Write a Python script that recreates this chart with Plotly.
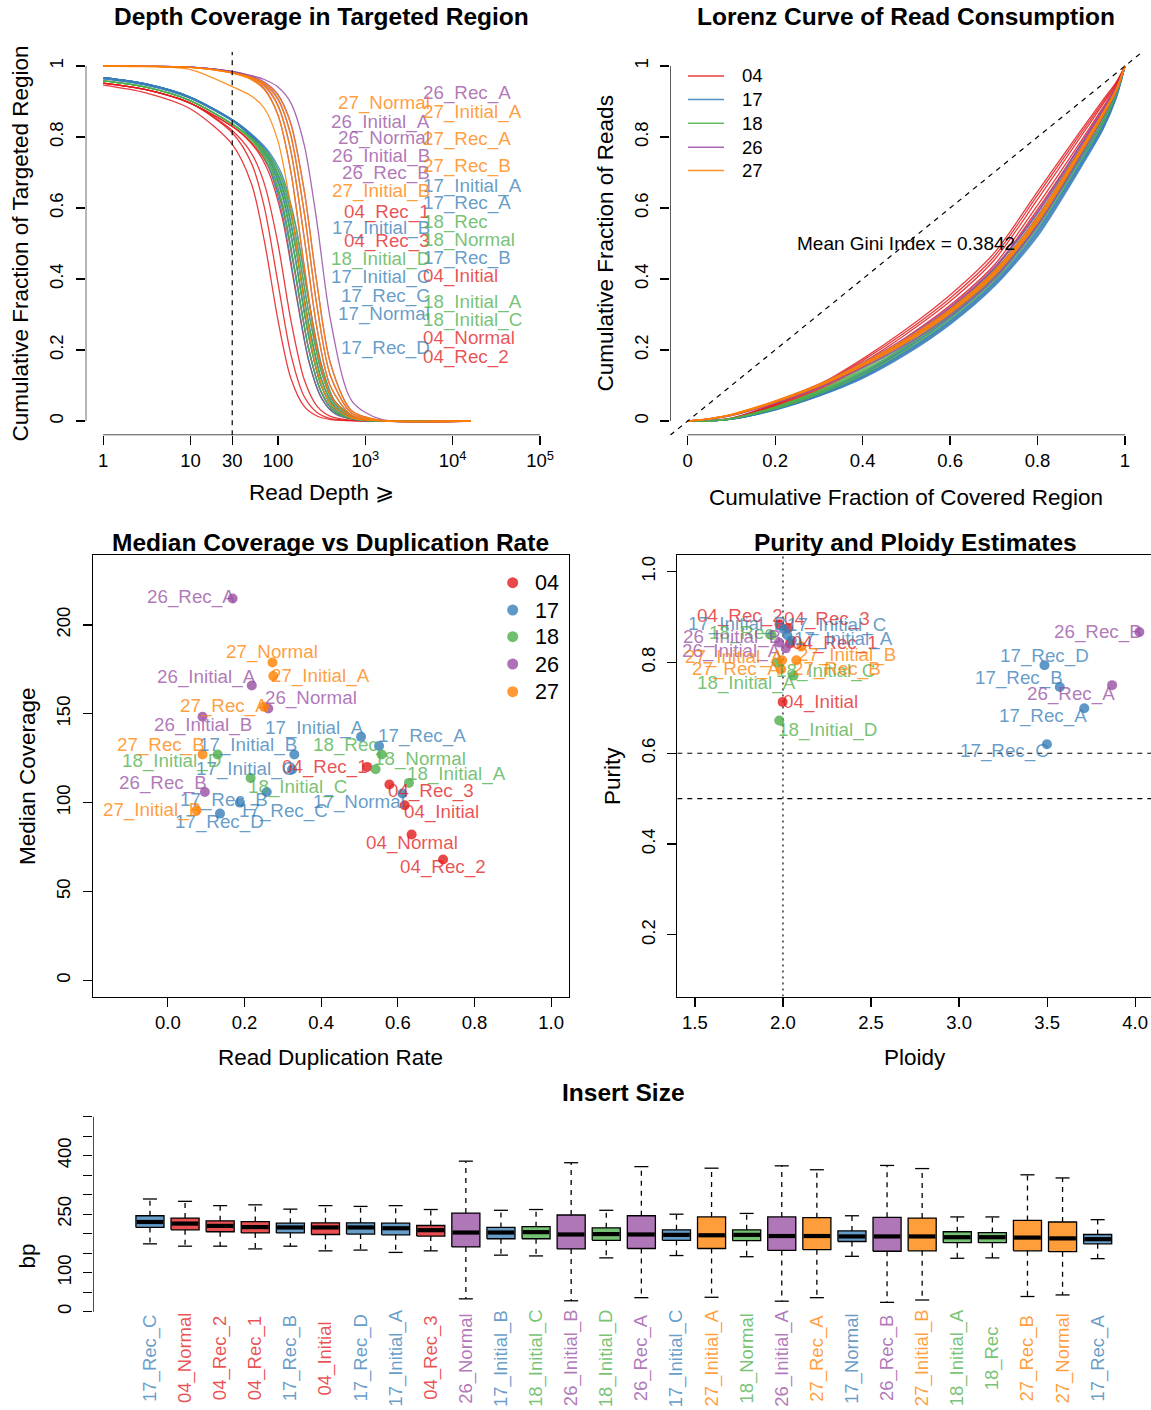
import plotly.graph_objects as go

W, H = 1151, 1410
FONT = "Liberation Sans, Arial, Helvetica, sans-serif"

# ---------------- data ----------------
samples = ["04_Normal", "04_Initial", "04_Rec_1", "04_Rec_2", "04_Rec_3",
           "17_Normal", "17_Initial_A", "17_Initial_B", "17_Initial_C", "17_Rec_A", "17_Rec_B", "17_Rec_C", "17_Rec_D",
           "18_Normal", "18_Initial_A", "18_Initial_C", "18_Initial_D", "18_Rec",
           "26_Normal", "26_Initial_A", "26_Initial_B", "26_Rec_A", "26_Rec_B",
           "27_Normal", "27_Initial_A", "27_Initial_B", "27_Rec_A", "27_Rec_B"]
groups = ["04", "17", "18", "26", "27"]

# cumulative fraction of targeted region with depth >= x (two read-off depth grids)
depth_grid_a = [1, 3, 10, 30, 50, 70, 100, 140, 200, 280, 400, 700, 1500, 16000]
depth_grid_b = [1, 3, 10, 34, 56, 78, 112, 157, 224, 314, 448, 784, 1680, 16000]
depth_curve_grid = ["a", "a", "b", "a", "b",
                    "b", "b", "b", "b", "b", "b", "b", "b",
                    "b", "b", "b", "b", "b",
                    "a", "a", "a", "a", "a",
                    "a", "a", "a", "a", "a"]
depth_frac = [
    [0.952, 0.934, 0.895, 0.812, 0.725, 0.602, 0.390, 0.190, 0.069, 0.024, 0.007, 0.001, 0.0, 0.0],
    [0.952, 0.934, 0.895, 0.818, 0.753, 0.668, 0.500, 0.287, 0.117, 0.042, 0.013, 0.002, 0.0, 0.0],
    [0.952, 0.934, 0.895, 0.821, 0.771, 0.716, 0.602, 0.416, 0.203, 0.080, 0.026, 0.004, 0.0, 0.0],
    [0.946, 0.925, 0.879, 0.779, 0.667, 0.507, 0.285, 0.122, 0.041, 0.014, 0.004, 0.001, 0.0, 0.0],
    [0.952, 0.934, 0.895, 0.820, 0.766, 0.702, 0.572, 0.373, 0.171, 0.065, 0.021, 0.003, 0.0, 0.0],
    [0.967, 0.950, 0.912, 0.837, 0.782, 0.717, 0.584, 0.381, 0.174, 0.066, 0.021, 0.003, 0.0, 0.0],
    [0.967, 0.950, 0.912, 0.840, 0.797, 0.760, 0.692, 0.561, 0.345, 0.161, 0.056, 0.009, 0.001, 0.0],
    [0.967, 0.950, 0.912, 0.840, 0.793, 0.749, 0.661, 0.501, 0.277, 0.118, 0.040, 0.006, 0.0, 0.0],
    [0.967, 0.950, 0.912, 0.839, 0.791, 0.741, 0.640, 0.465, 0.242, 0.099, 0.033, 0.005, 0.0, 0.0],
    [0.967, 0.950, 0.912, 0.840, 0.796, 0.755, 0.678, 0.533, 0.311, 0.139, 0.048, 0.008, 0.001, 0.0],
    [0.964, 0.947, 0.909, 0.836, 0.788, 0.738, 0.638, 0.463, 0.241, 0.099, 0.033, 0.005, 0.0, 0.0],
    [0.967, 0.950, 0.912, 0.838, 0.787, 0.730, 0.615, 0.425, 0.207, 0.082, 0.027, 0.004, 0.0, 0.0],
    [0.964, 0.947, 0.909, 0.837, 0.790, 0.746, 0.658, 0.499, 0.276, 0.118, 0.040, 0.006, 0.0, 0.0],
    [0.958, 0.941, 0.902, 0.827, 0.780, 0.731, 0.632, 0.459, 0.239, 0.098, 0.032, 0.005, 0.0, 0.0],
    [0.958, 0.941, 0.902, 0.826, 0.776, 0.721, 0.607, 0.419, 0.205, 0.081, 0.026, 0.004, 0.0, 0.0],
    [0.958, 0.941, 0.902, 0.828, 0.783, 0.739, 0.652, 0.495, 0.273, 0.117, 0.039, 0.006, 0.0, 0.0],
    [0.958, 0.941, 0.902, 0.828, 0.785, 0.745, 0.669, 0.526, 0.307, 0.137, 0.047, 0.008, 0.001, 0.0],
    [0.958, 0.941, 0.902, 0.828, 0.786, 0.750, 0.683, 0.554, 0.341, 0.158, 0.056, 0.009, 0.001, 0.0],
    [1.0, 0.999, 0.997, 0.984, 0.969, 0.951, 0.908, 0.807, 0.588, 0.324, 0.127, 0.022, 0.002, 0.0],
    [1.0, 0.999, 0.997, 0.984, 0.971, 0.955, 0.920, 0.840, 0.650, 0.387, 0.162, 0.029, 0.002, 0.0],
    [1.0, 0.999, 0.997, 0.984, 0.967, 0.945, 0.890, 0.764, 0.517, 0.262, 0.097, 0.016, 0.001, 0.0],
    [1.0, 0.999, 0.997, 0.985, 0.973, 0.962, 0.941, 0.897, 0.778, 0.559, 0.284, 0.057, 0.005, 0.0],
    [1.0, 0.999, 0.997, 0.983, 0.964, 0.936, 0.863, 0.706, 0.436, 0.203, 0.071, 0.011, 0.001, 0.0],
    [1.0, 0.999, 0.996, 0.981, 0.968, 0.952, 0.917, 0.837, 0.647, 0.386, 0.161, 0.028, 0.002, 0.0],
    [1.0, 0.999, 0.996, 0.981, 0.966, 0.948, 0.905, 0.805, 0.586, 0.323, 0.127, 0.022, 0.002, 0.0],
    [1.0, 0.998, 0.990, 0.942, 0.915, 0.881, 0.789, 0.605, 0.335, 0.143, 0.048, 0.008, 0.001, 0.0],
    [1.0, 0.999, 0.996, 0.981, 0.964, 0.942, 0.887, 0.762, 0.515, 0.261, 0.097, 0.016, 0.001, 0.0],
    [1.0, 0.999, 0.996, 0.980, 0.961, 0.933, 0.861, 0.704, 0.435, 0.202, 0.071, 0.011, 0.001, 0.0],
]

# Lorenz curves
lorenz_grid = [0, 0.05, 0.1, 0.2, 0.3, 0.4, 0.5, 0.6, 0.7, 0.8, 0.9, 0.95, 0.98, 1.0]
lorenz_frac = [
    [0, 0.001, 0.008, 0.047, 0.099, 0.170, 0.252, 0.346, 0.462, 0.636, 0.812, 0.899, 0.952, 1],
    [0, 0.001, 0.007, 0.045, 0.095, 0.164, 0.245, 0.337, 0.452, 0.624, 0.803, 0.893, 0.949, 1],
    [0, 0.001, 0.006, 0.041, 0.088, 0.152, 0.229, 0.318, 0.428, 0.596, 0.780, 0.877, 0.940, 1],
    [0, 0.001, 0.008, 0.049, 0.102, 0.175, 0.259, 0.355, 0.472, 0.646, 0.820, 0.905, 0.955, 1],
    [0, 0.001, 0.007, 0.043, 0.091, 0.157, 0.236, 0.326, 0.438, 0.608, 0.790, 0.884, 0.944, 1],
    [0, 0.000, 0.005, 0.032, 0.071, 0.122, 0.191, 0.275, 0.381, 0.525, 0.720, 0.825, 0.912, 1],
    [0, 0.000, 0.005, 0.031, 0.070, 0.120, 0.188, 0.272, 0.378, 0.520, 0.716, 0.822, 0.910, 1],
    [0, 0.000, 0.005, 0.033, 0.073, 0.126, 0.196, 0.281, 0.388, 0.534, 0.728, 0.832, 0.916, 1],
    [0, 0.000, 0.006, 0.035, 0.077, 0.132, 0.204, 0.290, 0.399, 0.549, 0.740, 0.842, 0.921, 1],
    [0, 0.000, 0.005, 0.032, 0.072, 0.124, 0.193, 0.278, 0.385, 0.530, 0.724, 0.829, 0.914, 1],
    [0, 0.000, 0.006, 0.034, 0.075, 0.128, 0.198, 0.284, 0.392, 0.539, 0.732, 0.835, 0.918, 1],
    [0, 0.000, 0.006, 0.037, 0.080, 0.138, 0.211, 0.299, 0.409, 0.563, 0.752, 0.852, 0.927, 1],
    [0, 0.000, 0.006, 0.036, 0.078, 0.134, 0.206, 0.293, 0.402, 0.553, 0.744, 0.845, 0.923, 1],
    [0, 0.001, 0.007, 0.039, 0.084, 0.144, 0.219, 0.309, 0.419, 0.577, 0.763, 0.862, 0.933, 1],
    [0, 0.001, 0.007, 0.040, 0.086, 0.148, 0.224, 0.315, 0.426, 0.587, 0.771, 0.868, 0.937, 1],
    [0, 0.000, 0.006, 0.034, 0.076, 0.130, 0.201, 0.287, 0.395, 0.544, 0.736, 0.839, 0.920, 1],
    [0, 0.001, 0.007, 0.038, 0.082, 0.140, 0.214, 0.303, 0.413, 0.568, 0.756, 0.855, 0.929, 1],
    [0, 0.000, 0.006, 0.036, 0.079, 0.136, 0.209, 0.296, 0.406, 0.558, 0.748, 0.848, 0.925, 1],
    [0, 0.006, 0.017, 0.053, 0.100, 0.159, 0.229, 0.313, 0.421, 0.576, 0.772, 0.872, 0.936, 1],
    [0, 0.006, 0.016, 0.052, 0.097, 0.154, 0.221, 0.302, 0.407, 0.557, 0.756, 0.860, 0.930, 1],
    [0, 0.006, 0.017, 0.054, 0.101, 0.161, 0.232, 0.318, 0.428, 0.585, 0.779, 0.877, 0.939, 1],
    [0, 0.005, 0.015, 0.050, 0.094, 0.150, 0.216, 0.296, 0.400, 0.550, 0.750, 0.857, 0.928, 1],
    [0, 0.007, 0.018, 0.056, 0.104, 0.165, 0.236, 0.322, 0.432, 0.590, 0.783, 0.880, 0.940, 1],
    [0, 0.006, 0.017, 0.054, 0.100, 0.158, 0.226, 0.308, 0.414, 0.566, 0.763, 0.866, 0.933, 1],
    [0, 0.006, 0.017, 0.053, 0.098, 0.155, 0.222, 0.303, 0.408, 0.558, 0.757, 0.861, 0.930, 1],
    [0, 0.007, 0.019, 0.057, 0.104, 0.163, 0.232, 0.315, 0.421, 0.574, 0.769, 0.870, 0.935, 1],
    [0, 0.006, 0.018, 0.055, 0.101, 0.160, 0.228, 0.311, 0.417, 0.570, 0.766, 0.868, 0.934, 1],
    [0, 0.006, 0.017, 0.054, 0.099, 0.157, 0.224, 0.306, 0.411, 0.562, 0.760, 0.864, 0.932, 1],
]
mean_gini = 0.3842

# median coverage vs duplication rate
dup_rate = [0.636, 0.618, 0.520, 0.718, 0.578,
            0.612, 0.504, 0.330, 0.324, 0.551, 0.258, 0.188, 0.136,
            0.542, 0.629, 0.216, 0.130, 0.558,
            0.262, 0.219, 0.0905, 0.169, 0.0966,
            0.273, 0.275, 0.0748, 0.251, 0.0905]
median_cov = [82.0, 98.5, 120.1, 68.0, 110.2,
              105.1, 137.0, 127.1, 118.6, 131.9, 106.0, 100.0, 93.8,
              118.8, 111.1, 113.9, 127.1, 127.1,
              153.0, 165.9, 148.3, 214.9, 106.0,
              178.9, 171.2, 95.7, 153.9, 127.1]

# purity / ploidy (normals have no estimate)
ploidy = [None, 1.998, 2.040, 1.980, 2.030,
          None, 2.050, 2.005, 2.025, 3.711, 3.572, 3.499, 3.485,
          None, 2.060, 1.965, 1.979, 1.936,
          None, 2.016, 1.978, 3.869, 4.024,
          None, 1.995, 2.105, 1.990, 2.076]
purity = [None, 0.713, 0.842, 0.884, 0.876,
          None, 0.848, 0.873, 0.860, 0.699, 0.746, 0.620, 0.794,
          None, 0.771, 0.800, 0.672, 0.860,
          None, 0.831, 0.844, 0.750, 0.867,
          None, 0.805, 0.835, 0.785, 0.805]

# insert size box statistics (ordered as in the plot)
insert_order = ["17_Rec_C", "04_Normal", "04_Rec_2", "04_Rec_1", "17_Rec_B", "04_Initial", "17_Rec_D",
                "17_Initial_A", "04_Rec_3", "26_Normal", "17_Initial_B", "18_Initial_C", "26_Initial_B",
                "18_Initial_D", "26_Rec_A", "17_Initial_C", "27_Initial_A", "18_Normal", "26_Initial_A",
                "27_Rec_A", "17_Normal", "26_Rec_B", "27_Initial_B", "18_Initial_A", "18_Rec", "27_Rec_B",
                "27_Normal", "17_Rec_A"]
ins_lower = [174, 168, 168, 161, 168, 156, 158, 152, 156, 33, 145, 143, 28, 138, 36, 144, 37, 141, 27, 36,
             142, 24, 30, 137, 138, 39, 43, 136]
ins_q1 = [216, 210, 205, 202, 202, 198, 199, 197, 194, 166, 187, 187, 161, 183, 162, 183, 162, 182, 157, 159,
          180, 155, 156, 177, 177, 156, 154, 174]
ins_median = [230, 226, 220, 217, 216, 216, 216, 214, 209, 203, 203, 204, 198, 199, 198, 197, 196, 197, 194,
              194, 193, 193, 193, 191, 191, 190, 188, 186]
ins_q3 = [246, 240, 233, 231, 227, 228, 228, 227, 221, 253, 216, 218, 248, 215, 246, 210, 243, 210, 243, 241,
          207, 242, 240, 205, 203, 234, 230, 198]
ins_upper = [289, 283, 272, 274, 263, 272, 270, 272, 262, 386, 260, 262, 382, 260, 372, 250, 368, 252, 374,
             364, 246, 375, 367, 243, 243, 351, 343, 236]

# ---------------- label placement (layout only) ----------------
depth_label_side = ["R", "R", "L", "R", "L", "L", "R", "L", "L", "R", "R", "L", "L", "R", "R", "R", "L", "R",
                    "L", "L", "L", "R", "L", "L", "R", "L", "R", "R"]
depth_label_y = [0.233, 0.409, 0.590, 0.179, 0.508, 0.301, 0.663, 0.545, 0.406, 0.615, 0.460, 0.353, 0.205,
                 0.510, 0.334, 0.285, 0.456, 0.560, 0.796, 0.843, 0.747, 0.923, 0.698, 0.895, 0.871, 0.649,
                 0.794, 0.719]
# (anchor, x shift px, y shift px downward)
dup_label_pos = [("center", 0, 8), ("left", -3, 7), ("right", 3, 0), ("center", 0, 8), ("left", -3, 7),
                 ("right", 5, 8), ("right", 5, -9), ("right", 5, -9), ("right", 5, -1), ("left", -3, -10),
                 ("right", 3, 8), ("left", -3, 8), ("center", 0, 8),
                 ("left", -4, -10), ("left", -4, -9), ("left", -5, 9), ("right", 5, 7), ("right", -2, -9),
                 ("left", -5, -10), ("right", 6, -9), ("center", 0, 8), ("right", 4, -1), ("right", 4, -9),
                 ("center", 0, -10), ("left", -4, 0), ("right", 6, 0), ("right", 6, -1), ("right", 4, -9)]
pur_label_pos = [None, ("left", -2, 0), ("left", 0, 0), ("right", 6, -8), ("left", -6, -9),
                 None, ("left", 0, -2), ("right", 4, -5), ("left", -2, -10), ("right", 5, 8), ("right", 5, -9),
                 ("right", 4, 7), ("center", 0, -9),
                 None, ("right", 4, 7), ("left", -3, 9), ("left", -3, 9), ("right", 4, -2),
                 None, ("right", -3, 3), ("right", 4, -5), ("right", 5, 9), ("right", 5, 0),
                 None, ("right", 4, -3), ("left", -5, 8), ("right", 1, 0), ("left", -5, 9)]

# ---------------- helpers ----------------
RGB = {"04": (228, 26, 28), "17": (55, 126, 184), "18": (77, 175, 74), "26": (152, 78, 163), "27": (255, 127, 0)}


def col(g, a=0.77):
    r, gg, b = RGB[g]
    return f"rgba({r},{gg},{b},{a})"


def grp(s):
    return s.split("_")[0]


def fx(p):
    return p / W


def fy(p):
    return 1 - p / H


TICKF = dict(family=FONT, size=18.5, color="black")
LABF = 22.5
TITF = 24.5
PTF = 18.8


def ax(**kw):
    d = dict(showgrid=False, zeroline=False, ticks="outside", ticklen=9, tickwidth=1.2, tickcolor="black",
             tickfont=TICKF, showline=False, linecolor="black", linewidth=1.2, fixedrange=True)
    d.update(kw)
    return d


fig = go.Figure()
ann = []

# ============ Panel 1 : depth coverage ============
for s, ys, gname in zip(samples, depth_frac, depth_curve_grid):
    xs = depth_grid_a if gname == "a" else depth_grid_b
    fig.add_trace(go.Scatter(x=xs, y=ys, mode="lines", xaxis="x", yaxis="y",
                             line=dict(color=col(grp(s), 0.85), width=1.3, shape="spline", smoothing=0.8),
                             hoverinfo="skip"))
fig.add_trace(go.Scatter(x=[30, 30], y=[-0.04, 1.04], mode="lines", xaxis="x", yaxis="y",
                         line=dict(color="black", width=1.2, dash="5px,5px"), hoverinfo="skip"))
fig.add_trace(go.Scatter(x=[1, 1e5], y=[-0.04, -0.04], mode="lines", xaxis="x", yaxis="y", cliponaxis=False,
                         line=dict(color="black", width=1.2), hoverinfo="skip"))
fig.add_trace(go.Scatter(x=[10 ** -0.2, 10 ** -0.2], y=[0, 1], mode="lines", xaxis="x", yaxis="y", cliponaxis=False,
                         line=dict(color="black", width=1.2), hoverinfo="skip"))
for s, side, yv in zip(samples, depth_label_side, depth_label_y):
    ann.append(dict(x=fx(431.7) if side == "L" else fx(421.4), xref="paper", y=yv, yref="y",
                    xanchor="right" if side == "L" else "left", yanchor="middle", text=s, showarrow=False,
                    font=dict(family=FONT, size=PTF, color=col(grp(s)))))

# ============ Panel 2 : Lorenz ============
for s, ys in zip(samples, lorenz_frac):
    fig.add_trace(go.Scatter(x=lorenz_grid, y=ys, mode="lines", xaxis="x2", yaxis="y2",
                             line=dict(color=col(grp(s), 0.85), width=1.3, shape="spline", smoothing=0.8),
                             hoverinfo="skip"))
fig.add_trace(go.Scatter(x=[-0.04, 1.04], y=[-0.04, 1.04], mode="lines", xaxis="x2", yaxis="y2",
                         line=dict(color="black", width=1.2, dash="5px,5px"), hoverinfo="skip"))
fig.add_trace(go.Scatter(x=[0, 1], y=[-0.04, -0.04], mode="lines", xaxis="x2", yaxis="y2", cliponaxis=False,
                         line=dict(color="black", width=1.2), hoverinfo="skip"))
fig.add_trace(go.Scatter(x=[-0.04, -0.04], y=[0, 1], mode="lines", xaxis="x2", yaxis="y2", cliponaxis=False,
                         line=dict(color="black", width=1.2), hoverinfo="skip"))
ann.append(dict(x=0.5, y=0.5, xref="x2", yref="y2", text=f"Mean Gini Index = {mean_gini}", showarrow=False,
                xanchor="center", yanchor="middle", font=dict(family=FONT, size=19, color="black")))
leg2_y = [76, 99.5, 123.3, 147.3, 170.5]
for g, py in zip(groups, leg2_y):
    fig.add_shape(type="line", xref="paper", yref="paper", x0=fx(688), x1=fx(724), y0=fy(py), y1=fy(py),
                  line=dict(color=col(g, 0.85), width=1.6))
    ann.append(dict(x=fx(740), y=fy(py), xref="paper", yref="paper", text=g, showarrow=False,
                    xanchor="left", yanchor="middle", font=dict(family=FONT, size=18.6, color="black")))

# ============ Panel 3 : median coverage vs duplication ============
for g in groups:
    xs = [d for s, d in zip(samples, dup_rate) if grp(s) == g]
    ys = [c for s, c in zip(samples, median_cov) if grp(s) == g]
    fig.add_trace(go.Scatter(x=xs, y=ys, mode="markers", xaxis="x3", yaxis="y3",
                             marker=dict(size=10, color=col(g, 0.8), line=dict(width=0)), hoverinfo="skip"))
for s, d, c, (anc, dx, dy) in zip(samples, dup_rate, median_cov, dup_label_pos):
    ann.append(dict(x=d, y=c, xref="x3", yref="y3", text=s, showarrow=False, xanchor=anc, yanchor="middle",
                    xshift=dx, yshift=-dy, font=dict(family=FONT, size=PTF, color=col(grp(s)))))
x3r = [-0.196, 1.046]
y3r = [-9.2, 239.2]
leg3_y = [582.7, 610.0, 636.7, 664.0, 691.7]
for g, py in zip(groups, leg3_y):
    ann.append(dict(x=fx(533.3), y=fy(py), xref="paper", yref="paper", text=g, showarrow=False,
                    xanchor="left", yanchor="middle", font=dict(family=FONT, size=21.6, color="black")))
fig.add_trace(go.Scatter(
    x=[x3r[0] + (512.7 - 92.7) / (568.8 - 92.7) * (x3r[1] - x3r[0])] * 5,
    y=[y3r[1] - (py - 555.3) / (996.6 - 555.3) * (y3r[1] - y3r[0]) for py in leg3_y],
    mode="markers", xaxis="x3", yaxis="y3",
    marker=dict(size=11, color=[col(g, 0.8) for g in groups], line=dict(width=0)), hoverinfo="skip"))

# ============ Panel 4 : purity / ploidy ============
x4r = [1.4, 1.4 + (1151 - 677.3) / 176.1]
y4r = [0.064, 1.036]
fig.add_trace(go.Scatter(x=[2.0, 2.0], y=y4r, mode="lines", xaxis="x4", yaxis="y4",
                         line=dict(color="black", width=1.2, dash="2px,4px"), hoverinfo="skip"))
for hv in (0.6, 0.5):
    fig.add_trace(go.Scatter(x=x4r, y=[hv, hv], mode="lines", xaxis="x4", yaxis="y4",
                             line=dict(color="black", width=1.2, dash="5px,5px"), hoverinfo="skip"))
for g in groups:
    xs = [p for s, p in zip(samples, ploidy) if grp(s) == g and p is not None]
    ys = [u for s, u in zip(samples, purity) if grp(s) == g and u is not None]
    fig.add_trace(go.Scatter(x=xs, y=ys, mode="markers", xaxis="x4", yaxis="y4",
                             marker=dict(size=10, color=col(g, 0.8), line=dict(width=0)), hoverinfo="skip"))
for s, p, u, pos in zip(samples, ploidy, purity, pur_label_pos):
    if p is None:
        continue
    anc, dx, dy = pos
    ann.append(dict(x=p, y=u, xref="x4", yref="y4", text=s, showarrow=False, xanchor=anc, yanchor="middle",
                    xshift=dx, yshift=-dy, font=dict(family=FONT, size=PTF, color=col(grp(s)))))

# ============ Panel 5 : insert size boxplot ============
n = len(insert_order)
pos = list(range(1, n + 1))
half = 0.4
for g in groups:
    bx, by = [], []
    for i, s in enumerate(insert_order):
        if grp(s) != g:
            continue
        x = pos[i]
        bx += [x - half, x + half, x + half, x - half, x - half, None]
        by += [ins_q1[i], ins_q1[i], ins_q3[i], ins_q3[i], ins_q1[i], None]
    fig.add_trace(go.Scatter(x=bx, y=by, mode="lines", fill="toself", fillcolor=col(g, 0.77),
                             xaxis="x5", yaxis="y5", line=dict(color="black", width=1.3), hoverinfo="skip"))
wx, wy, cx, cy, mx, my = [], [], [], [], [], []
for i in range(n):
    x = pos[i]
    wx += [x, x, None, x, x, None]
    wy += [ins_q3[i], ins_upper[i], None, ins_q1[i], ins_lower[i], None]
    cx += [x - 0.2, x + 0.2, None, x - 0.2, x + 0.2, None]
    cy += [ins_upper[i], ins_upper[i], None, ins_lower[i], ins_lower[i], None]
    mx += [x - half + 0.02, x + half - 0.02, None]
    my += [ins_median[i], ins_median[i], None]
fig.add_trace(go.Scatter(x=wx, y=wy, mode="lines", xaxis="x5", yaxis="y5",
                         line=dict(color="black", width=1.3, dash="5px,5px"), hoverinfo="skip"))
fig.add_trace(go.Scatter(x=cx, y=cy, mode="lines", xaxis="x5", yaxis="y5",
                         line=dict(color="black", width=1.3), hoverinfo="skip"))
fig.add_trace(go.Scatter(x=mx, y=my, mode="lines", xaxis="x5", yaxis="y5",
                         line=dict(color="black", width=4.2), hoverinfo="skip"))
x5r = [-0.62, -0.62 + (1151 - 93.1) / 35.1]
y5r = [-239.2, 522.3]
fig.add_trace(go.Scatter(x=[x5r[0], x5r[0]], y=[0, 500], mode="lines", xaxis="x5", yaxis="y5", cliponaxis=False,
                         line=dict(color="black", width=1.2), hoverinfo="skip"))
for i, s in enumerate(insert_order):
    ann.append(dict(x=pos[i], xref="x5", y=fy(1358), yref="paper", text=s, textangle=-90, showarrow=False,
                    xanchor="center", yanchor="middle", font=dict(family=FONT, size=18.5, color=col(grp(s)))))

# ============ titles and axis labels ============
titles = [("Depth Coverage in Targeted Region", 321.6, 16), ("Lorenz Curve of Read Consumption", 906.3, 16),
          ("Median Coverage vs Duplication Rate", 330.7, 543), ("Purity and Ploidy Estimates", 915, 543),
          ("Insert Size", 623, 1092)]
for t, px, py in titles:
    ann.append(dict(x=fx(px), y=fy(py), xref="paper", yref="paper", text=f"<b>{t}</b>", showarrow=False,
                    xanchor="center", yanchor="middle", font=dict(family=FONT, size=TITF, color="black")))
alabels = [("Read Depth \u2a7e", 321.6, 492, 0), ("Cumulative Fraction of Targeted Region", 20, 243.5, -90),
           ("Cumulative Fraction of Covered Region", 906.3, 497, 0), ("Cumulative Fraction of Reads", 605, 243.5, -90),
           ("Read Duplication Rate", 330.7, 1057, 0), ("Median Coverage", 27, 776, -90),
           ("Ploidy", 915, 1057, 0), ("Purity", 612, 776, -90), ("bp", 27, 1256.5, -90)]
for t, px, py, ang in alabels:
    ann.append(dict(x=fx(px), y=fy(py), xref="paper", yref="paper", text=t, textangle=ang, showarrow=False,
                    xanchor="center", yanchor="middle", font=dict(family=FONT, size=LABF, color="black")))

frac_ticks = [0, 0.2, 0.4, 0.6, 0.8, 1]
frac_text = ["0", "0.2", "0.4", "0.6", "0.8", "1"]
YSO = 5

fig.update_layout(
    width=W, height=H, margin=dict(l=0, r=0, t=0, b=0), paper_bgcolor="white", plot_bgcolor="white",
    showlegend=False, hovermode=False, font=dict(family=FONT, color="black"),
    xaxis=ax(domain=[fx(85.7), fx(557.5)], type="log", range=[-0.2, 5.2], anchor="y",
             tickvals=[1, 10, 30, 100, 1000, 10000, 100000],
             ticktext=["1", "10", "30", "100", "10<sup>3</sup>", "10<sup>4</sup>", "10<sup>5</sup>"]),
    yaxis=ax(domain=[fy(435.2), fy(51.8)], range=[-0.04, 1.04], anchor="x", tickvals=frac_ticks,
             ticktext=frac_text, tickangle=-90, ticklabelstandoff=YSO),
    xaxis2=ax(domain=[fx(670.2), fx(1142.5)], range=[-0.04, 1.04], anchor="y2", tickvals=frac_ticks,
              ticktext=frac_text),
    yaxis2=ax(domain=[fy(435.2), fy(51.8)], range=[-0.04, 1.04], anchor="x2", tickvals=frac_ticks,
              ticktext=frac_text, tickangle=-90, ticklabelstandoff=YSO),
    xaxis3=ax(domain=[fx(92.7), fx(568.8)], range=x3r, anchor="y3", tickvals=[0, 0.2, 0.4, 0.6, 0.8, 1.0],
              ticktext=["0.0", "0.2", "0.4", "0.6", "0.8", "1.0"], showline=True, mirror=True),
    yaxis3=ax(domain=[fy(996.6), fy(555.3)], range=y3r, anchor="x3", tickvals=[0, 50, 100, 150, 200],
              ticktext=["0", "50", "100", "150", "200"], tickangle=-90, showline=True, mirror=True,
              ticklabelstandoff=YSO),
    xaxis4=ax(domain=[fx(677.3), 1.0], range=x4r, anchor="y4", tickvals=[1.5, 2.0, 2.5, 3.0, 3.5, 4.0],
              ticktext=["1.5", "2.0", "2.5", "3.0", "3.5", "4.0"], showline=True, mirror=True),
    yaxis4=ax(domain=[fy(996.6), fy(555.3)], range=y4r, anchor="x4", tickvals=[0.2, 0.4, 0.6, 0.8, 1.0],
              ticktext=["0.2", "0.4", "0.6", "0.8", "1.0"], tickangle=-90, showline=True,
              ticklabelstandoff=YSO),
    xaxis5=ax(domain=[fx(93.1), 1.0], range=x5r, anchor="y5", visible=False),
    yaxis5=ax(domain=[fy(1405), fy(1108)], range=y5r, anchor="x5", tickvals=[0, 100, 250, 400],
              ticktext=["0", "100", "250", "400"], tickangle=-90, ticklabelstandoff=YSO,
              minor=dict(tickmode="array", tickvals=[50, 150, 200, 300, 350, 450, 500], ticks="outside",
                         ticklen=9, tickwidth=1.2, tickcolor="black")),
    annotations=ann,
)

fig.write_html("out.html", config={"displayModeBar": False, "staticPlot": True},
               post_script="document.body.style.margin='0px';document.body.style.padding='0px';"
                           "document.body.style.overflow='hidden';")
